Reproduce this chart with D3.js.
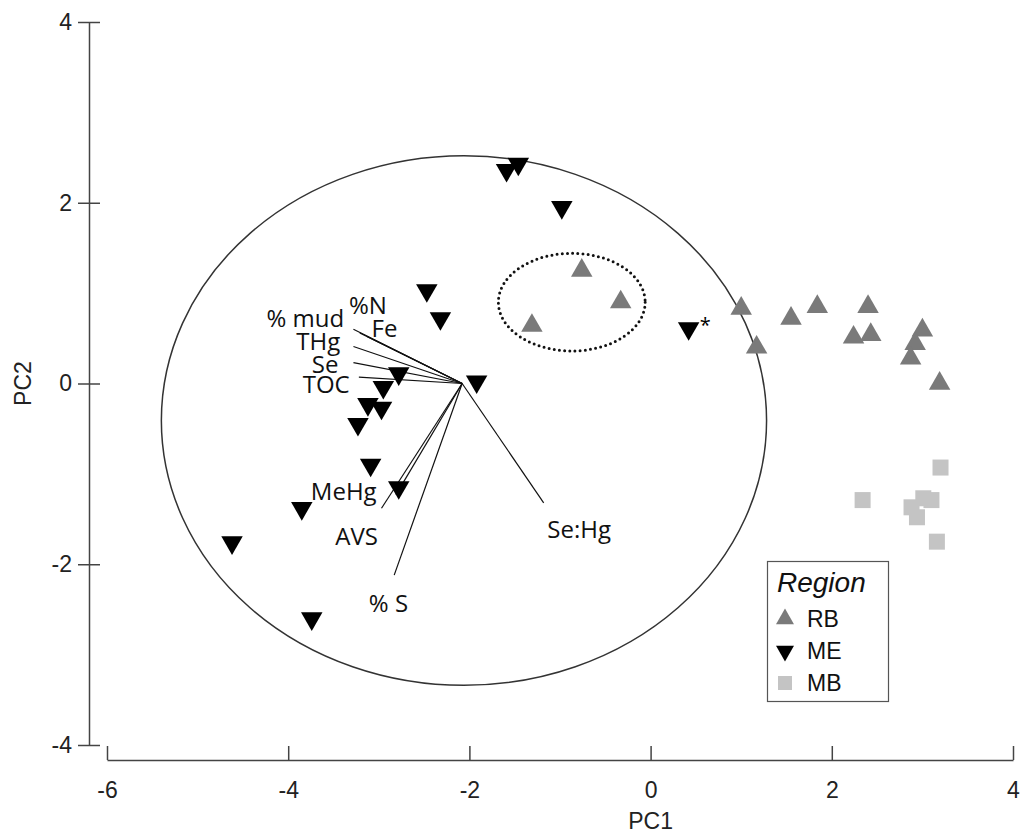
<!DOCTYPE html>
<html>
<head>
<meta charset="utf-8">
<script src="https://cdn.jsdelivr.net/npm/d3@7"></script>
<style>
  body { margin: 0; background: #fff; }
  .tick text { font-family: "Liberation Sans", Arial, sans-serif; font-size: 23px; fill: #222; }
  .domain, .tick line { stroke: #444; stroke-width: 1.5; }
  .load { font-family: "Open Sans", sans-serif; font-size: 24px; fill: #111; }
</style>
</head>
<body>
<div id="chart"></div>
<script>
// PCA scores by region
var rbPoints = [[-0.76, 1.25], [-0.33, 0.90], [-1.31, 0.64], [1.00, 0.83], [1.17, 0.40],
  [1.55, 0.72], [1.84, 0.85], [2.40, 0.85], [2.24, 0.51], [2.43, 0.54],
  [3.00, 0.59], [2.92, 0.44], [2.87, 0.28], [3.19, 0.00]];
var mePoints = [[-1.59, 2.36], [-1.46, 2.43], [-0.98, 1.95], [-2.47, 1.03], [-2.32, 0.72],
  [-1.92, 0.02], [-2.78, 0.11], [-2.95, -0.04], [-3.12, -0.23], [-2.97, -0.27],
  [-3.23, -0.45], [-3.09, -0.90], [-2.78, -1.15], [-3.85, -1.38], [-4.62, -1.76],
  [-3.74, -2.60], [0.42, 0.61]];
var mbPoints = [[3.20, -0.93], [2.34, -1.29], [2.88, -1.37], [3.01, -1.27], [3.10, -1.29],
  [2.94, -1.48], [3.16, -1.75]];
var markedPoint = [0.42, 0.61]; // the ME point with the asterisk

// loading vectors: origin and end points
var loadOrigin = [-2.08, 0.0];
var loadNames = ["% mud", "%N", "Fe", "THg", "Se", "TOC", "MeHg", "AVS", "% S", "Se:Hg"];
var loadEnds = [[-3.28, 0.60], [-3.21, 0.56], [-3.13, 0.52], [-3.28, 0.41], [-3.28, 0.23],
  [-3.22, 0.07], [-2.81, -1.23], [-2.97, -1.38], [-2.83, -2.12], [-1.18, -1.32]];
var loadLabelAt = [[-4.24, 0.62], [-3.33, 0.77], [-3.08, 0.51], [-3.91, 0.37], [-3.74, 0.12],
  [-3.84, -0.11], [-3.75, -1.29], [-3.48, -1.79], [-3.11, -2.53], [-1.14, -1.71]];

// big ellipse and dotted ellipse (center x, center y, radius x, radius y)
var bigEllipse = [-2.06, -0.41, 3.34, 2.93];
var dotEllipse = [-0.87, 0.90, 0.81, 0.54];

var xTicks = [-6, -4, -2, 0, 2, 4];
var yTicks = [-4, -2, 0, 2, 4];
var regions = ["RB", "ME", "MB"];

var svgWidth = 1020, svgHeight = 836;

var svg = d3.select("#chart").append("svg")
  .attr("width", svgWidth)
  .attr("height", svgHeight);

var xScale = d3.scaleLinear().domain([-6, 4]).range([107, 1013]);
var yScale = d3.scaleLinear().domain([-4, 4]).range([745, 22]);

// axes (plain hyphen for negatives, like the original)
var xAxis = d3.axisBottom(xScale).tickValues(xTicks).tickFormat(d => String(d))
  .tickSizeInner(-14).tickSizeOuter(0).tickPadding(22);
svg.append("g").attr("transform", "translate(0,760)").call(xAxis);

var yAxis = d3.axisLeft(yScale).tickValues(yTicks).tickFormat(d => String(d))
  .tickSizeInner(11).tickSizeOuter(0).tickPadding(6);
var yg = svg.append("g").attr("transform", "translate(89,0)").call(yAxis);
yg.selectAll(".tick line").attr("x1", 11);

svg.append("text")
  .attr("x", xScale(0)).attr("y", 829)
  .attr("text-anchor", "middle")
  .style("font-family", "Liberation Sans, Arial, sans-serif")
  .style("font-size", "23px").style("fill", "#222")
  .text("PC1");

svg.append("text")
  .attr("transform", "translate(31," + yScale(0) + ") rotate(-90)")
  .attr("text-anchor", "middle")
  .style("font-family", "Liberation Sans, Arial, sans-serif")
  .style("font-size", "23px").style("fill", "#222")
  .text("PC2");

// circle of correlation
svg.append("ellipse")
  .attr("cx", xScale(bigEllipse[0])).attr("cy", yScale(bigEllipse[1]))
  .attr("rx", xScale(bigEllipse[2]) - xScale(0))
  .attr("ry", yScale(0) - yScale(bigEllipse[3]))
  .attr("fill", "none").attr("stroke", "#333").attr("stroke-width", 1.5);

svg.append("ellipse")
  .attr("cx", xScale(dotEllipse[0])).attr("cy", yScale(dotEllipse[1]))
  .attr("rx", xScale(dotEllipse[2]) - xScale(0))
  .attr("ry", yScale(0) - yScale(dotEllipse[3]))
  .attr("fill", "none").attr("stroke", "#111").attr("stroke-width", 3)
  .attr("stroke-linecap", "round").attr("stroke-dasharray", "0 5.2");

// loading lines
svg.selectAll(".loadline")
  .data(loadEnds)
  .enter().append("line")
    .attr("class", "loadline")
    .attr("x1", xScale(loadOrigin[0])).attr("y1", yScale(loadOrigin[1]))
    .attr("x2", d => xScale(d[0])).attr("y2", d => yScale(d[1]))
    .attr("stroke", "#111").attr("stroke-width", 1.2);

svg.selectAll(".load")
  .data(loadNames)
  .enter().append("text")
    .attr("class", "load")
    .attr("x", (d, i) => xScale(loadLabelAt[i][0]))
    .attr("y", (d, i) => yScale(loadLabelAt[i][1]))
    .text(d => d);

// markers
var triUp = d3.symbol().type(d3.symbolTriangle).size(200);

svg.selectAll(".mb")
  .data(mbPoints)
  .enter().append("rect")
    .attr("x", d => xScale(d[0]) - 8).attr("y", d => yScale(d[1]) - 8)
    .attr("width", 16).attr("height", 16)
    .attr("fill", "#c4c4c4");

svg.selectAll(".rb")
  .data(rbPoints)
  .enter().append("path")
    .attr("d", triUp)
    .attr("transform", d => "translate(" + xScale(d[0]) + "," + yScale(d[1]) + ")")
    .attr("fill", "#7a7a7a");

svg.selectAll(".me")
  .data(mePoints)
  .enter().append("path")
    .attr("d", triUp)
    .attr("transform", d => "translate(" + xScale(d[0]) + "," + yScale(d[1]) + ") rotate(180)")
    .attr("fill", "#000");

svg.append("text")
  .attr("x", xScale(markedPoint[0]) + 11).attr("y", yScale(markedPoint[1]) + 4)
  .style("font-family", "Open Sans, sans-serif").style("font-size", "20px")
  .text("*");

// legend
var legend = svg.append("g");
legend.append("rect")
  .attr("x", 767.5).attr("y", 561.5).attr("width", 121).attr("height", 140)
  .attr("fill", "#fff").attr("stroke", "#555").attr("stroke-width", 1.2);
legend.append("text")
  .attr("x", 777).attr("y", 592)
  .style("font-family", "Liberation Sans, Arial, sans-serif")
  .style("font-size", "28px").style("font-style", "italic").style("fill", "#111")
  .text("Region");

var legendY = d3.scalePoint().domain(regions).range([619, 683]);
var legendColor = { RB: "#7a7a7a", ME: "#000", MB: "#c4c4c4" };

regions.forEach(function(r) {
  var y = legendY(r);
  if (r === "MB") {
    legend.append("rect").attr("x", 778).attr("y", y - 7).attr("width", 14).attr("height", 14)
      .attr("fill", legendColor[r]);
  } else {
    legend.append("path")
      .attr("d", d3.symbol().type(d3.symbolTriangle).size(140))
      .attr("transform", "translate(785," + y + ")" + (r === "ME" ? " rotate(180)" : ""))
      .attr("fill", legendColor[r]);
  }
  legend.append("text")
    .attr("x", 807).attr("y", y + 8)
    .style("font-family", "Liberation Sans, Arial, sans-serif")
    .style("font-size", "23px").style("fill", "#111")
    .text(r);
});
</script>
</body>
</html>
